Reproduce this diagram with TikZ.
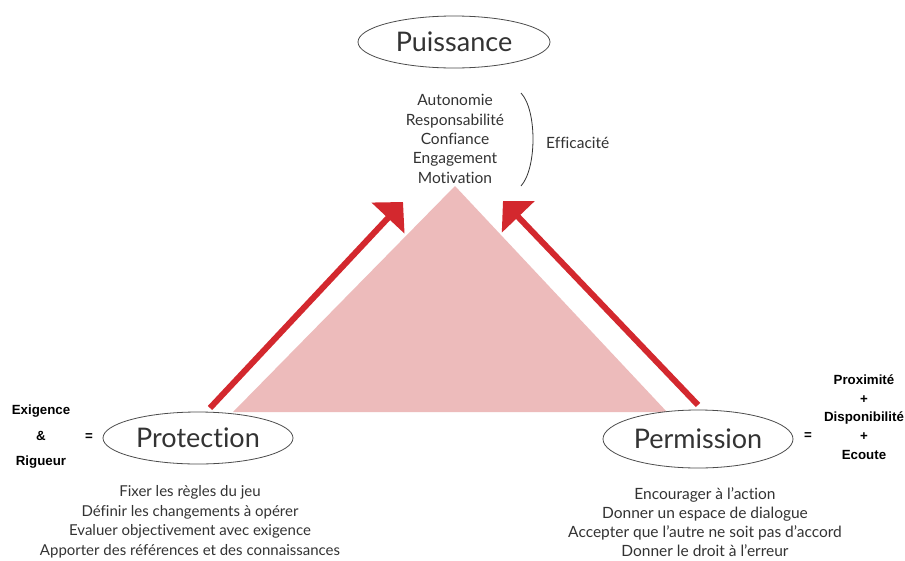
\documentclass[tikz,border=0pt]{standalone}
\usepackage{fontspec}
\setmainfont{Lato}[Ligatures={NoCommon}]
\newfontfamily\boldsans{Liberation Sans}
\usetikzlibrary{shapes.geometric,arrows.meta}
\definecolor{tri}{HTML}{EDBBBB}
\definecolor{arr}{HTML}{D3282E}
\definecolor{txt}{HTML}{333333}
\begin{document}
\begin{tikzpicture}[x=1pt,y=-1pt,
  oval/.style={ellipse,draw=black!70,line width=0.8pt,inner sep=0pt,fill=white,
    font=\fontsize{27}{30}\selectfont,text=txt},
  list/.style={align=center,font=\fontsize{15.5}{19.4}\selectfont,text=txt,inner sep=0pt},
  boldlbl/.style={font=\boldsans\bfseries\fontsize{13.3}{15}\selectfont,inner sep=0pt,align=center,text=black},
  bigarrow/.style={draw=arr,line width=6pt,-{Triangle[length=22pt,width=44pt]}}]
\useasboundingbox (0,0) rectangle (905,560);
\fill[white] (0,0) rectangle (905,560);
% triangle
\coordinate (apex) at (455,186);
\coordinate (bl) at (233,412);
\coordinate (br) at (667,412);
\fill[tri] (apex) -- (bl) -- (br) -- cycle;
% arrows
\coordinate (la0) at (210,408);
\coordinate (la1) at (403,202);
\coordinate (ra0) at (698,405);
\coordinate (ra1) at (503,201);
\draw[bigarrow] (la0) -- (la1);
\draw[bigarrow] (ra0) -- (ra1);
% ovals
\node[oval,minimum width=192pt,minimum height=52pt] (puis) at (454,42) {Puissance};
\node[oval,minimum width=190pt,minimum height=52pt] (prot) at (198,438) {Protection};
\node[oval,minimum width=190pt,minimum height=58pt] (perm) at (698,439) {Permission};
% lists
\node[list] (qual) at (455,139) {Autonomie\\Responsabilité\\Confiance\\Engagement\\Motivation};
\draw[txt,line width=0.8pt] (521,93) .. controls (537,110) and (537,168) .. (521,186);
\node[list,anchor=west] (eff) at (546,143) {Efficacité};
\node[list,font=\fontsize{15}{19.5}\selectfont] (protlist) at (190,522) {Fixer les règles du jeu\\Définir les changements à opérer\\Evaluer objectivement avec exigence\\Apporter des références et des connaissances};
\node[list,font=\fontsize{15.5}{19.2}\selectfont] (permlist) at (705,522) {Encourager à l’action\\Donner un espace de dialogue\\Accepter que l’autre ne soit pas d’accord\\Donner le droit à l’erreur};
% bold labels
\node[boldlbl,font=\boldsans\bfseries\fontsize{13.3}{25.5}\selectfont] (exi) at (41,437) {Exigence\\\&\\Rigueur};
\node[boldlbl] (eql) at (89,437) {=};
\node[boldlbl,font=\boldsans\bfseries\fontsize{13.3}{18.7}\selectfont] (prox) at (864,417) {Proximité\\+\\Disponibilité\\+\\Ecoute};
\node[boldlbl] (eqr) at (808,436) {=};
\end{tikzpicture}
\end{document}
